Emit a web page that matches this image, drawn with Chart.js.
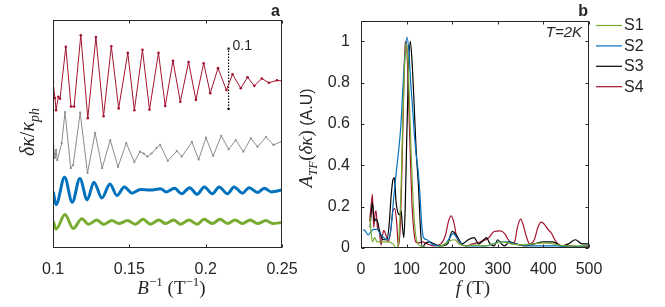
<!DOCTYPE html>
<html><head><meta charset="utf-8">
<script src="https://cdn.jsdelivr.net/npm/chart.js@4/dist/chart.umd.min.js"></script>
<style>
html,body{margin:0;padding:0;background:#fff;}
#wrap{position:relative;width:665px;height:307px;overflow:hidden;background:#fff;}
#ca{position:absolute;left:0;top:0;}
#cb{position:absolute;left:292px;top:0;}
</style></head><body>
<div id="wrap">
<canvas id="ca" width="310" height="307"></canvas>
<canvas id="cb" width="373" height="307"></canvas>
</div>
<script>
// ---------- panel a data (B^-1 in 1/T, delta kappa / kappa_ph, traces offset) ----------
const leftXTicks = [0.1, 0.15, 0.2, 0.25];
const s4X = [0.1000,0.1013,0.1020,0.1035,0.1046,0.1084,0.1118,0.1138,0.1182,0.1228,0.1281,0.1331,0.1382,0.1430,0.1490,0.1533,0.1586,0.1632,0.1691,0.1735,0.1786,0.1834,0.1888,0.1936,0.1987,0.2030,0.2081,0.2136,0.2176,0.2230,0.2274,0.2319,0.2368,0.2414,0.2467,0.2500];
const s4Y = [0.273,0.246,0.226,0.248,0.245,0.330,0.232,0.232,0.349,0.213,0.346,0.216,0.331,0.229,0.320,0.226,0.325,0.227,0.320,0.233,0.307,0.240,0.305,0.243,0.303,0.254,0.295,0.259,0.285,0.262,0.280,0.266,0.278,0.271,0.275,0.274];
const s3X = [0.1003,0.1013,0.1020,0.1028,0.1057,0.1079,0.1116,0.1132,0.1178,0.1226,0.1276,0.1322,0.1375,0.1426,0.1480,0.1533,0.1570,0.1594,0.1618,0.1645,0.1678,0.1702,0.1752,0.1811,0.1844,0.1910,0.1954,0.2002,0.2049,0.2102,0.2151,0.2197,0.2247,0.2296,0.2340,0.2395,0.2444,0.2500];
const s3Y = [0.167,0.148,0.161,0.144,0.172,0.223,0.131,0.136,0.222,0.123,0.189,0.131,0.177,0.133,0.172,0.141,0.158,0.155,0.150,0.155,0.164,0.169,0.143,0.159,0.150,0.174,0.145,0.181,0.151,0.184,0.162,0.177,0.158,0.180,0.166,0.182,0.169,0.175];
const s2X = [0.1002,0.1020,0.1076,0.1126,0.1176,0.1224,0.1268,0.1320,0.1373,0.1419,0.1467,0.1518,0.1572,0.1638,0.1704,0.1743,0.1796,0.1842,0.1895,0.1944,0.1991,0.2044,0.2088,0.2143,0.2186,0.2241,0.2285,0.2340,0.2384,0.2432,0.2500];
const s2Y = [0.092,0.071,0.116,0.075,0.114,0.079,0.108,0.082,0.105,0.086,0.100,0.090,0.096,0.095,0.097,0.092,0.098,0.089,0.099,0.088,0.100,0.089,0.100,0.089,0.100,0.090,0.099,0.091,0.098,0.092,0.095];
const s1X = [0.1002,0.1020,0.1079,0.1132,0.1189,0.1232,0.1288,0.1331,0.1386,0.1430,0.1489,0.1539,0.1590,0.1638,0.1693,0.1737,0.1791,0.1836,0.1890,0.1945,0.1989,0.2044,0.2094,0.2143,0.2193,0.2241,0.2291,0.2340,0.2395,0.2439,0.2500];
const s1Y = [0.044,0.031,0.055,0.032,0.048,0.039,0.046,0.039,0.045,0.040,0.045,0.039,0.047,0.039,0.046,0.040,0.046,0.039,0.046,0.039,0.047,0.040,0.047,0.040,0.046,0.040,0.046,0.040,0.045,0.040,0.042];
const scaleBarX = 0.215;
const scaleBarY = [0.228, 0.327];
const scaleBarLabel = '0.1';

// ---------- panel b data (frequency in T, FFT amplitude normalised) ----------
const seriesNames = ['S1','S2','S3','S4'];
const rightXTicks = [0,100,200,300,400,500];
const rightYTicks = [0,0.2,0.4,0.6,0.8,1];
const f1 = [20,22,25,30,35,40,50,60,70,78,83,88,92,95,99,103,107,111,115,120,125,130,140,155,170,185,195,205,215,230,250,270,290,310,330,350,380,400,420,450,480,500];
const a1 = [0.15,0.08,0.03,0.05,0.03,0.03,0.03,0.03,0.02,0.0,0.05,0.3,0.65,0.85,0.99,0.9,0.65,0.4,0.2,0.06,0.02,0.01,0.005,0.0,0.005,0.02,0.035,0.04,0.02,0.01,0.015,0.01,0.02,0.03,0.02,0.015,0.02,0.025,0.02,0.01,0.01,0.01];
const f2 = [5,10,16,22,28,35,42,50,57,62,67,72,77,82,87,92,96,101,105,109,113,117,121,125,129,133,137,145,155,170,185,195,202,210,220,235,255,275,290,305,320,335,350,370,400,430,460,490,500];
const a2 = [0.09,0.08,0.063,0.08,0.09,0.09,0.07,0.05,0.04,0.05,0.12,0.25,0.36,0.46,0.58,0.78,0.92,1.02,0.95,0.8,0.68,0.55,0.45,0.38,0.27,0.12,0.05,0.04,0.02,0.01,0.02,0.05,0.07,0.05,0.02,0.01,0.01,0.01,0.02,0.03,0.03,0.02,0.015,0.01,0.01,0.01,0.005,0.01,0.015];
const f3 = [20,22,25,29,33,36,40,45,50,57,62,66,70,73,77,81,85,88,91,94,97,100,104,108,112,116,121,126,131,135,140,150,160,175,190,200,210,222,235,248,258,265,275,283,292,300,308,315,325,340,360,380,400,420,440,455,470,485,500];
const a3 = [0.1,0.16,0.22,0.13,0.14,0.13,0.09,0.05,0.04,0.04,0.12,0.25,0.33,0.34,0.22,0.17,0.16,0.18,0.1,0.05,0.2,0.5,0.85,1.0,0.9,0.72,0.47,0.3,0.07,0.0,0.02,0.03,0.02,0.01,0.02,0.08,0.06,0.02,0.04,0.05,0.02,0.03,0.05,0.02,0.01,0.04,0.02,0.01,0.03,0.02,0.01,0.02,0.03,0.03,0.01,0.02,0.04,0.02,0.02];
const f4 = [19,22,25,28,31,33,36,40,44,47,50,55,60,65,70,74,78,82,86,90,94,97,100,104,108,112,116,120,126,135,145,160,175,185,192,198,204,210,218,230,245,262,280,292,305,315,323,330,337,343,350,356,362,370,380,388,395,402,410,418,425,432,440,460,480,500];
const a4 = [0.13,0.2,0.26,0.1,0.17,0.18,0.1,0.08,0.015,0.06,0.085,0.06,0.03,0.08,0.18,0.19,0.13,0.01,0.1,0.4,0.8,1.0,0.98,0.75,0.45,0.2,0.08,0.03,0.025,0.03,0.02,0.01,0.02,0.06,0.13,0.155,0.12,0.05,0.02,0.01,0.02,0.03,0.05,0.08,0.083,0.07,0.04,0.02,0.03,0.1,0.14,0.11,0.06,0.02,0.04,0.1,0.125,0.115,0.09,0.07,0.04,0.02,0.01,0.01,0.005,0.01];

const colS1 = '#77ac30', colS2 = '#0072bd', colS3 = '#000000', colS4 = '#a2142f', colS3a = '#8c8c8c';
const AX = '#262626';
const SANS = '"Liberation Sans", Arial, Helvetica, sans-serif';
const SERIF = '"Liberation Serif", "Times New Roman", serif';
Chart.defaults.font.family = SANS;

const toXY = (xs, ys) => xs.map((x, i) => ({x: x, y: ys[i]}));

function drawRich(c, segs, x, y, rot, align) {
  c.save();
  c.translate(x, y);
  if (rot) c.rotate(rot);
  let W = 0;
  segs.forEach(s => { c.font = s.f; s.w = c.measureText(s.t).width; W += s.w; });
  let px = align === 'left' ? 0 : -W / 2;
  c.textBaseline = 'alphabetic';
  c.textAlign = 'left';
  c.fillStyle = AX;
  segs.forEach(s => { c.font = s.f; c.fillText(s.t, px, s.dy || 0); px += s.w; });
  c.restore();
}

function framePlugin(xt, yt, extra) {
  return {
    id: 'frame',
    afterDraw(chart) {
      const c = chart.ctx, a = chart.chartArea, sx = chart.scales.x, sy = chart.scales.y;
      c.save();
      c.strokeStyle = AX; c.lineWidth = 1;
      const L = Math.round(a.left) + 0.5, R = Math.round(a.right) - 0.5;
      const T = Math.round(a.top) + 0.5, B = Math.round(a.bottom) - 0.5;
      c.strokeRect(L, T, R - L, B - T);
      c.beginPath();
      xt.forEach(v => { const p = Math.round(sx.getPixelForValue(v)) + 0.5;
        c.moveTo(p, B); c.lineTo(p, B - 3); c.moveTo(p, T); c.lineTo(p, T + 3); });
      yt.forEach(v => { const p = Math.round(sy.getPixelForValue(v)) + 0.5;
        c.moveTo(L, p); c.lineTo(L + 3, p); c.moveTo(R, p); c.lineTo(R - 3, p); });
      c.stroke();
      if (extra) extra(chart, c);
      c.restore();
    }
  };
}

const tickFont = {family: SANS, size: 16};

// ---------------- panel a ----------------
new Chart(document.getElementById('ca'), {
  type: 'line',
  data: { datasets: [
    {label: 'S4', data: toXY(s4X, s4Y), borderColor: colS4, backgroundColor: colS4, borderWidth: 1, pointRadius: 1.3, pointBorderWidth: 0, pointBackgroundColor: colS4, tension: 0},
    {label: 'S3', data: toXY(s3X, s3Y), borderColor: colS3a, backgroundColor: colS3a, borderWidth: 1, pointRadius: 1.1, pointBorderWidth: 0, pointBackgroundColor: colS3a, tension: 0},
    {label: 'S2', data: toXY(s2X, s2Y), borderColor: colS2, borderWidth: 3, pointRadius: 0, cubicInterpolationMode: 'monotone'},
    {label: 'S1', data: toXY(s1X, s1Y), borderColor: colS1, borderWidth: 3, pointRadius: 0, cubicInterpolationMode: 'monotone'},
    {label: 'scale', data: [{x: scaleBarX, y: scaleBarY[0]}, {x: scaleBarX, y: scaleBarY[1]}], borderColor: '#000', borderWidth: 1.2, borderDash: [1.5, 1.5], pointRadius: 1.5, pointStyle: 'rect', pointBorderWidth: 0, pointBackgroundColor: '#000'}
  ]},
  options: {
    responsive: false, animation: false, events: [],
    layout: {padding: {left: 53, right: 28, top: 20, bottom: 0}},
    plugins: {legend: {display: false}, tooltip: {enabled: false}},
    scales: {
      x: {type: 'linear', min: 0.1, max: 0.25,
          afterBuildTicks: s => { s.ticks = leftXTicks.map(v => ({value: v})); },
          afterFit: s => { s.height = 59; },
          ticks: {callback: v => String(v), font: tickFont, color: AX, padding: 12, maxRotation: 0, autoSkip: false},
          grid: {display: false, drawTicks: false}, border: {display: false}},
      y: {type: 'linear', min: 0, max: 0.374, display: false}
    }
  },
  plugins: [framePlugin(leftXTicks, [], (chart, c) => {
    const sx = chart.scales.x, sy = chart.scales.y, a = chart.chartArea;
    c.fillStyle = AX;
    c.font = '14px ' + SANS; c.textAlign = 'left'; c.textBaseline = 'alphabetic';
    c.fillText(scaleBarLabel, sx.getPixelForValue(scaleBarX) + 4, sy.getPixelForValue(scaleBarY[1]) + 1);
    c.font = 'bold 16px ' + SANS; c.textAlign = 'right';
    c.fillText('a', a.right - 2, 16);
    const cx = (a.left + a.right) / 2 + 4;
    drawRich(c, [
      {t: 'B', f: 'italic 19px ' + SERIF},
      {t: '\u22121', f: '13px ' + SERIF, dy: -8},
      {t: ' (T', f: '19px ' + SERIF},
      {t: '\u22121', f: '13px ' + SERIF, dy: -8},
      {t: ')', f: '19px ' + SERIF}
    ], cx, 294, 0);
    drawRich(c, [
      {t: '\u03B4\u03BA', f: 'italic 20px ' + SERIF},
      {t: '/', f: '20px ' + SERIF},
      {t: '\u03BA', f: 'italic 20px ' + SERIF},
      {t: 'ph', f: 'italic 14px ' + SERIF, dy: 5}
    ], 34, 132, -Math.PI / 2);
  })]
});

// ---------------- panel b ----------------
new Chart(document.getElementById('cb'), {
  type: 'line',
  data: { datasets: [
    {label: seriesNames[0], data: toXY(f1, a1), borderColor: colS1, borderWidth: 1.2, pointRadius: 0, cubicInterpolationMode: 'monotone'},
    {label: seriesNames[1], data: toXY(f2, a2), borderColor: colS2, borderWidth: 1.2, pointRadius: 0, cubicInterpolationMode: 'monotone'},
    {label: seriesNames[2], data: toXY(f3, a3), borderColor: colS3, borderWidth: 1.2, pointRadius: 0, cubicInterpolationMode: 'monotone'},
    {label: seriesNames[3], data: toXY(f4, a4), borderColor: colS4, borderWidth: 1.2, pointRadius: 0, cubicInterpolationMode: 'monotone'}
  ]},
  options: {
    responsive: false, animation: false, events: [],
    layout: {padding: {left: 0, right: 76, top: 20, bottom: 0}},
    plugins: {legend: {display: false}, tooltip: {enabled: false}},
    scales: {
      x: {type: 'linear', min: 0, max: 500,
          afterBuildTicks: s => { s.ticks = rightXTicks.map(v => ({value: v})); },
          afterFit: s => { s.height = 59; },
          ticks: {callback: v => String(v), font: tickFont, color: AX, padding: 12, maxRotation: 0, autoSkip: false},
          grid: {display: false, drawTicks: false}, border: {display: false}},
      y: {type: 'linear', min: 0, max: 1.1,
          afterBuildTicks: s => { s.ticks = rightYTicks.map(v => ({value: v})); },
          afterFit: s => { s.width = 69; },
          ticks: {callback: v => String(v), font: tickFont, color: AX, padding: 11, autoSkip: false},
          grid: {display: false, drawTicks: false}, border: {display: false}}
    }
  },
  plugins: [framePlugin(rightXTicks, rightYTicks, (chart, c) => {
    const a = chart.chartArea;
    c.fillStyle = AX;
    c.font = 'bold 16px ' + SANS; c.textAlign = 'right'; c.textBaseline = 'alphabetic';
    c.fillText('b', a.right - 1, 16);
    c.font = 'italic 15px ' + SANS;
    c.fillText('T=2K', a.right - 7, 37);
    // legend
    chart.data.datasets.forEach((ds, i) => {
      const y = 25 + i * 20.4;
      c.strokeStyle = ds.borderColor; c.lineWidth = 1.2;
      c.beginPath(); c.moveTo(a.right + 7, y + 0.5); c.lineTo(a.right + 33, y + 0.5); c.stroke();
      c.fillStyle = AX; c.font = '16px ' + SANS; c.textAlign = 'left'; c.textBaseline = 'middle';
      c.fillText(ds.label, a.right + 35, y + 1);
    });
    const cx = (a.left + a.right) / 2;
    drawRich(c, [
      {t: 'f', f: 'italic 19px ' + SERIF},
      {t: ' (T)', f: '19px ' + SERIF}
    ], cx - 2, 294, 0);
    drawRich(c, [
      {t: 'A', f: 'italic 19px ' + SERIF},
      {t: 'TF', f: 'italic 13px ' + SERIF, dy: 5},
      {t: '(', f: '19px ' + SERIF},
      {t: '\u03B4\u03BA', f: 'italic 19px ' + SERIF},
      {t: ')', f: '19px ' + SERIF},
      {t: ' (A.U)', f: '16px ' + SANS}
    ], 20, 138, -Math.PI / 2);
  })]
});
</script>
</body></html>
